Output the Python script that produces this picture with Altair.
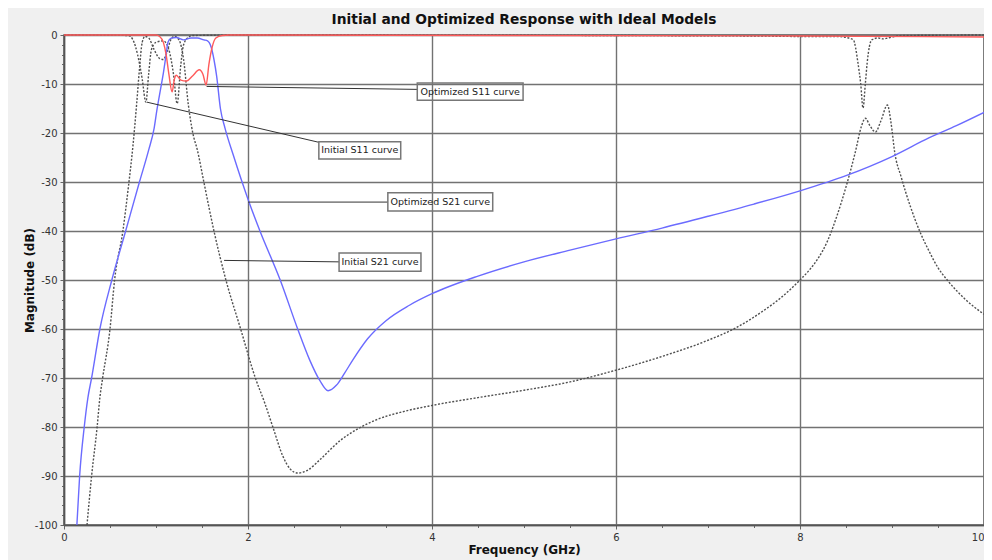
import altair as alt
import pandas as pd

# ---------------- data ----------------
init_s21_f = [0.25, 0.30, 0.36, 0.39, 0.42, 0.50, 0.55, 0.64, 0.70, 0.75, 0.79, 0.82, 0.85, 0.88, 0.92, 0.98,
              1.04, 1.08, 1.12, 1.16, 1.20, 1.25, 1.30, 1.35, 1.40, 1.45, 1.52, 1.63, 1.76, 1.92, 2.08, 2.18,
              2.27, 2.38, 2.46, 2.54, 2.65, 2.78, 3.0, 3.2, 3.4, 3.7, 4.0, 4.5, 5.0, 5.5, 6.0, 6.5, 7.0, 7.3, 7.6,
              7.8, 8.0, 8.1, 8.2, 8.3, 8.4, 8.5, 8.6, 8.67, 8.71, 8.76, 8.82, 8.88, 8.95, 8.99, 9.03, 9.1,
              9.2, 9.3, 9.4, 9.5, 9.6, 9.8, 10.0]
init_s21_db = [-100, -90, -80, -74, -70, -60, -50, -40, -31, -22.5, -14, -7, -1.5, -0.3, -0.6, -3,
               -4.8, -5, -3.5, -1, -0.3, -1, -5, -14, -20, -23.5, -30, -40, -50, -60, -70, -75,
               -80, -86, -88.6, -89.4, -88.8, -86.7, -82.8, -80.3, -78.5, -76.8, -75.6, -74, -72.5, -70.8, -68.4, -65.6, -62.3, -59.8, -56.3,
               -53.5, -50, -48, -45.5, -42, -37, -31, -24, -18.5, -17, -18.5, -19.8, -17.5, -14.3, -18, -24, -29,
               -35, -40, -44, -47.5, -50, -54, -57]

init_s11_f = [0.0, 0.70, 0.75, 0.80, 0.85, 0.89, 0.92, 0.95, 1.00, 1.08, 1.14, 1.19, 1.23, 1.27, 1.30, 1.35,
              1.40, 2.0, 7.5, 8.0, 8.4, 8.5, 8.58, 8.63, 8.66, 8.685, 8.71, 8.73, 8.78, 8.85, 8.9, 9.0, 9.1, 10.0]
init_s11_db = [0.0, -0.1, -1, -4, -9, -13.7, -8, -3, -1.5, -1.2, -3, -8, -14, -6, -2, -0.5,
               -0.1, 0.0, -0.2, -0.3, -0.3, -0.5, -1, -5.7, -10, -14.9, -10, -5.7, -1, -0.6, -0.8, -0.4, -0.1, 0.0]

opt_s21_f = [0.14, 0.17, 0.22, 0.26, 0.30, 0.39, 0.52, 0.67, 0.82, 0.92, 0.98, 1.01, 1.05, 1.08, 1.11, 1.13,
             1.16, 1.22, 1.30, 1.38, 1.45, 1.52, 1.56, 1.60, 1.63, 1.66, 1.70, 1.75, 1.84, 2.0, 2.13, 2.35,
             2.54, 2.67, 2.78, 2.87, 2.96, 3.05, 3.14, 3.3, 3.5, 3.75, 4.0, 4.5, 5.0, 5.5, 6.0, 6.5, 7.0,
             7.5, 8.0, 8.5, 9.0, 9.4, 9.7, 10.0]
opt_s21_db = [-100, -90, -80, -74, -70, -60, -50, -40, -30, -23.5, -19, -15.3, -11, -7.8, -4, -1.5,
              -0.7, -0.5, -1.0, -0.6, -0.6, -1.0, -1.2, -2.5, -5, -8.5, -15, -19, -24.5, -33.5, -40, -50,
              -60, -66.3, -70.5, -72.6, -71.5, -69, -66.3, -62, -58.3, -55.2, -52.8, -49.2, -46.3, -43.9, -41.6, -39.4, -37,
              -34.5, -31.8, -28.7, -24.8, -21, -18.5, -15.8]

opt_s11_f = [0.0, 1.0, 1.04, 1.08, 1.11, 1.14, 1.175, 1.20, 1.22, 1.27, 1.33, 1.40, 1.47, 1.51, 1.545, 1.575,
             1.61, 1.65, 1.72, 1.8, 8.0, 10.0]
opt_s11_db = [0.0, 0.0, -0.3, -1.5, -4, -8, -11.6, -9, -8.2, -9.2, -9.4, -8.3, -7.1, -8, -10.2, -6,
              -2.5, -0.6, -0.1, 0.0, -0.2, -0.4]

series_names = ["Initial S21", "Initial S11", "Optimized S21", "Optimized S11"]

# annotations: label, curve point (f, dB), box corners (f0, f1, dB0, dB1)
ann_label = ["Optimized S11 curve", "Initial S11 curve", "Optimized S21 curve", "Initial S21 curve"]
ann_f = [1.55, 0.90, 2.00, 1.74]
ann_db = [-10.5, -13.7, -34.1, -46.0]
box_f0 = [3.84, 2.77, 3.52, 2.99]
box_f1 = [4.99, 3.66, 4.66, 3.88]
box_db0 = [-9.8, -21.8, -32.2, -44.5]
box_db1 = [-13.3, -25.3, -35.9, -48.2]
lead_end_db = [-11.1, -21.9, -34.1, -46.3]

x_ticks = [i * 0.5 for i in range(21)]
y_ticks = [-100 + 2 * i for i in range(51)]

# ---------------- build ----------------
def frame(f, d, name):
    return pd.DataFrame({"f": f, "db": d, "s": name})

x_scale = alt.Scale(domain=[0, 10], nice=False, zero=False)
y_scale = alt.Scale(domain=[-100, 0], nice=False, zero=False)

x_axis = alt.Axis(
    title="Frequency (GHz)", values=x_ticks,
    labelExpr="datum.value % 2 === 0 ? '' + datum.value : ''",
    tickSize={"condition": {"test": "datum.value % 2 === 0", "value": 4}, "value": 2.5},
    gridOpacity={"condition": {"test": "datum.value % 2 === 0", "value": 1}, "value": 0},
    labelAlign={"condition": {"test": "datum.value === 10", "value": "right"}, "value": "center"},
    grid=True, gridColor="#727272", gridWidth=1.4,
    domainColor="#555555", domainWidth=1.5, tickColor="#666666",
    labelFont="DejaVu Sans", labelFontSize=10, labelColor="#333333", labelPadding=3,
    titleFont="DejaVu Sans", titleFontSize=12, titleFontWeight="bold", titleColor="#111111",
    titlePadding=2, labelFlush=False,
)
y_axis = alt.Axis(
    title="Magnitude (dB)", values=y_ticks,
    labelExpr="datum.value % 10 === 0 ? '' + datum.value : ''",
    tickSize={"condition": {"test": "datum.value % 10 === 0", "value": 4}, "value": 2.5},
    gridOpacity={"condition": {"test": "datum.value % 10 === 0", "value": 1}, "value": 0},
    grid=True, gridColor="#727272", gridWidth=1.4,
    domainColor="#555555", domainWidth=1.5, tickColor="#666666",
    labelFont="DejaVu Sans", labelFontSize=10, labelColor="#333333", labelPadding=3,
    titleFont="DejaVu Sans", titleFontSize=12, titleFontWeight="bold", titleColor="#111111",
    titlePadding=-2, labelFlush=False,
)

def X(field):
    return alt.X(field, type="quantitative", scale=x_scale, axis=x_axis)

def Y(field):
    return alt.Y(field, type="quantitative", scale=y_scale, axis=y_axis)

def curve(df, color, dash=None, width=1.4):
    kw = dict(color=color, strokeWidth=width, interpolate="monotone", clip=False)
    if dash:
        kw["strokeDash"] = dash
    return alt.Chart(df).mark_line(**kw).encode(x=X("f"), y=Y("db"))

c_init_s21 = curve(frame(init_s21_f, init_s21_db, series_names[0]), "#505050", dash=[2, 1.6])
c_init_s11 = curve(frame(init_s11_f, init_s11_db, series_names[1]), "#505050", dash=[2, 1.6])
c_opt_s21 = curve(frame(opt_s21_f, opt_s21_db, series_names[2]), "#6b6bff")
c_opt_s11 = curve(frame(opt_s11_f, opt_s11_db, series_names[3]), "#ff5a5a")

ann = pd.DataFrame({
    "label": ann_label, "f": ann_f, "db": ann_db,
    "bf0": box_f0, "bf1": box_f1, "bd0": box_db0, "bd1": box_db1,
    "le": lead_end_db,
})
ann["cf"] = (ann["bf0"] + ann["bf1"]) / 2
ann["cd"] = (ann["bd0"] + ann["bd1"]) / 2

leaders = alt.Chart(ann).mark_rule(color="#333333", strokeWidth=1).encode(
    x=X("f"), y=Y("db"), x2="bf0:Q", y2="le:Q",
)
boxes = alt.Chart(ann).mark_rect(fill="white", fillOpacity=0, stroke="#777777", strokeWidth=1.5).encode(
    x=X("bf0"), x2="bf1:Q", y=Y("bd0"), y2="bd1:Q",
)
texts = alt.Chart(ann).mark_text(font="DejaVu Sans", fontSize=9.5, color="#222222",
                                 align="center", baseline="middle").encode(
    x=X("cf"), y=Y("cd"), text="label:N",
)

chart = alt.layer(c_init_s21, c_init_s11, c_opt_s21, c_opt_s11, leaders, boxes, texts).properties(
    width=920, height=490,
    title=alt.TitleParams("Initial and Optimized Response with Ideal Models", font="DejaVu Sans",
                          fontSize=13.8, fontWeight="bold", color="#111111", anchor="middle", offset=3),
    padding={"left": 56, "top": 27, "right": 0, "bottom": 35},
    autosize="none",
    background="#f0f0f0",
).configure_view(fill="white", stroke="#555555", strokeWidth=1.5)

chart.save("out.html", embed_options={"renderer": "svg", "actions": False})
